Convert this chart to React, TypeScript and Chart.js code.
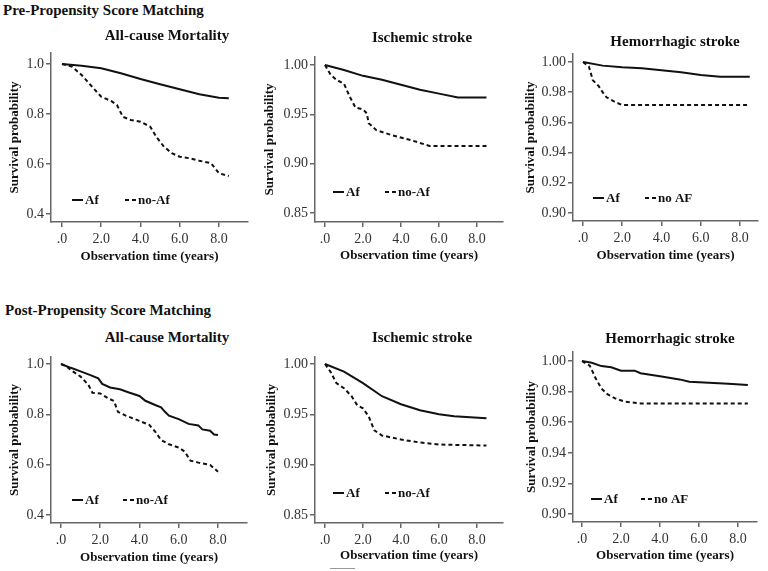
import React, { useEffect, useRef } from "react";
import { Chart, registerables } from "chart.js";

Chart.register(...registerables);

const FONT = '"Liberation Serif", "Times New Roman", Times, serif';

type Pt = [number, number];

// ---- Data (time in years, survival probability) ----
const X_TICKS = [0, 2, 4, 6, 8];
const Y_TICKS_MORT = [0.4, 0.6, 0.8, 1.0];
const Y_TICKS_ISCH = [0.85, 0.9, 0.95, 1.0];
const Y_TICKS_HEM = [0.9, 0.92, 0.94, 0.96, 0.98, 1.0];

const PRE_MORT_AF: Pt[] = [[0, 1.0], [1, 0.993], [2, 0.983], [3, 0.963], [4, 0.94], [5, 0.919], [6, 0.899], [7, 0.879], [8, 0.865], [8.5, 0.863]];
const PRE_MORT_NOAF: Pt[] = [[0, 1.0], [0.5, 0.99], [1, 0.956], [1.5, 0.912], [2, 0.869], [2.5, 0.852], [2.8, 0.836], [3.1, 0.789], [3.5, 0.776], [4, 0.769], [4.5, 0.749], [4.8, 0.709], [5.2, 0.669], [5.6, 0.643], [6, 0.629], [6.5, 0.623], [7, 0.613], [7.6, 0.603], [8, 0.563], [8.5, 0.552]];

const PRE_ISCH_AF: Pt[] = [[0, 1.0], [1, 0.995], [2, 0.989], [3, 0.985], [4, 0.98], [5, 0.975], [6, 0.971], [7, 0.967], [8.5, 0.967]];
const PRE_ISCH_NOAF: Pt[] = [[0, 1.0], [0.3, 0.99], [0.6, 0.985], [1.0, 0.981], [1.3, 0.968], [1.6, 0.957], [2.0, 0.955], [2.2, 0.951], [2.3, 0.941], [2.7, 0.934], [3.5, 0.929], [4.5, 0.924], [5.5, 0.918], [8.5, 0.918]];

const PRE_HEM_AF: Pt[] = [[0, 1.0], [1, 0.9976], [2, 0.9965], [3, 0.9958], [4, 0.9945], [5, 0.9932], [6, 0.9914], [7, 0.9903], [8.5, 0.9903]];
const PRE_HEM_NOAF: Pt[] = [[0, 1.0], [0.3, 0.997], [0.5, 0.988], [0.8, 0.984], [1.0, 0.98], [1.2, 0.9766], [1.6, 0.9737], [2.0, 0.9715], [8.5, 0.9715]];

const POST_MORT_AF: Pt[] = [[0, 1.0], [0.5, 0.985], [1, 0.971], [1.5, 0.956], [1.9, 0.943], [2.1, 0.921], [2.5, 0.907], [3, 0.9], [3.5, 0.886], [4, 0.873], [4.3, 0.854], [4.8, 0.837], [5.1, 0.828], [5.3, 0.81], [5.5, 0.795], [6, 0.781], [6.5, 0.762], [7, 0.756], [7.2, 0.74], [7.6, 0.735], [7.8, 0.72], [8, 0.718]];
const POST_MORT_NOAF: Pt[] = [[0, 1.0], [0.3, 0.99], [0.5, 0.976], [1, 0.95], [1.4, 0.917], [1.6, 0.886], [2.0, 0.883], [2.4, 0.864], [2.7, 0.853], [2.9, 0.81], [3.3, 0.795], [4, 0.774], [4.5, 0.758], [4.8, 0.731], [5.1, 0.698], [5.5, 0.681], [6, 0.668], [6.3, 0.652], [6.6, 0.616], [7, 0.608], [7.6, 0.599], [8, 0.572]];

const POST_ISCH_AF: Pt[] = [[0, 1.0], [1, 0.9924], [2, 0.981], [3, 0.968], [4, 0.96], [5, 0.954], [6, 0.95], [6.8, 0.948], [8.5, 0.946]];
const POST_ISCH_NOAF: Pt[] = [[0, 1.0], [0.3, 0.992], [0.6, 0.981], [1, 0.976], [1.4, 0.968], [1.7, 0.959], [2.0, 0.956], [2.3, 0.948], [2.6, 0.934], [3, 0.929], [4, 0.925], [5, 0.922], [6, 0.92], [8.5, 0.919]];

const POST_HEM_AF: Pt[] = [[0, 1.0], [0.5, 0.9989], [1, 0.9967], [1.5, 0.9959], [2, 0.9937], [2.7, 0.9937], [3, 0.992], [4, 0.99], [5, 0.988], [5.5, 0.9865], [6.5, 0.9858], [7.5, 0.9852], [8.5, 0.9843]];
const POST_HEM_NOAF: Pt[] = [[0, 1.0], [0.4, 0.997], [0.7, 0.9887], [1.0, 0.982], [1.3, 0.9784], [1.7, 0.9756], [2.2, 0.9734], [3, 0.9723], [8.5, 0.9723]];

// ---- Panel layout ----
interface PanelCfg {
  title: string;
  titleX: number;
  titleY: number;
  af: Pt[];
  noaf: Pt[];
  noafLabel: string;
  yTicks: number[];
  yDec: number;
  yMin: number;
  yMax: number;
  xMin: number;
  xMax: number;
  area: { l: number; r: number; t: number; b: number };
  ytx: number;
  xty: number;
  legend: { x1: number; x2: number; dy: number };
}

const PANELS: PanelCfg[] = [
  {
    title: "All-cause Mortality", titleX: 167, titleY: 35,
    af: PRE_MORT_AF, noaf: PRE_MORT_NOAF, noafLabel: "no-Af",
    yTicks: Y_TICKS_MORT, yDec: 1, yMin: 0.368, yMax: 1.044, xMin: -0.56, xMax: 9.48,
    area: { l: 51, r: 248, t: 53, b: 222 }, ytx: 15, xty: 257,
    legend: { x1: 21, x2: 74, dy: 22 },
  },
  {
    title: "Ischemic stroke", titleX: 422, titleY: 37,
    af: PRE_ISCH_AF, noaf: PRE_ISCH_NOAF, noafLabel: "no-Af",
    yTicks: Y_TICKS_ISCH, yDec: 2, yMin: 0.8409, yMax: 1.0081, xMin: -0.526, xMax: 9.37,
    area: { l: 315, r: 503, t: 57, b: 222 }, ytx: 270, xty: 256,
    legend: { x1: 18, x2: 70, dy: 30 },
  },
  {
    title: "Hemorrhagic stroke", titleX: 675, titleY: 41,
    af: PRE_HEM_AF, noaf: PRE_HEM_NOAF, noafLabel: "no AF",
    yTicks: Y_TICKS_HEM, yDec: 2, yMin: 0.8947, yMax: 1.0053, xMin: -0.51, xMax: 8.92,
    area: { l: 573, r: 758, t: 54, b: 221 }, ytx: 531, xty: 256,
    legend: { x1: 20, x2: 72, dy: 23 },
  },
  {
    title: "All-cause Mortality", titleX: 167, titleY: 337,
    af: POST_MORT_AF, noaf: POST_MORT_NOAF, noafLabel: "no-Af",
    yTicks: Y_TICKS_MORT, yDec: 1, yMin: 0.368, yMax: 1.028, xMin: -0.51, xMax: 9.48,
    area: { l: 51, r: 247, t: 357, b: 523 }, ytx: 15, xty: 558,
    legend: { x1: 21, x2: 72, dy: 23 },
  },
  {
    title: "Ischemic stroke", titleX: 422, titleY: 337,
    af: POST_ISCH_AF, noaf: POST_ISCH_NOAF, noafLabel: "no-Af",
    yTicks: Y_TICKS_ISCH, yDec: 2, yMin: 0.842, yMax: 1.007, xMin: -0.526, xMax: 9.37,
    area: { l: 315, r: 503, t: 357, b: 523 }, ytx: 272, xty: 556,
    legend: { x1: 18, x2: 70, dy: 30 },
  },
  {
    title: "Hemorrhagic stroke", titleX: 670, titleY: 338,
    af: POST_HEM_AF, noaf: POST_HEM_NOAF, noafLabel: "no AF",
    yTicks: Y_TICKS_HEM, yDec: 2, yMin: 0.8948, yMax: 1.0059, xMin: -0.46, xMax: 8.97,
    area: { l: 573, r: 757, t: 352, b: 522 }, ytx: 532, xty: 556,
    legend: { x1: 18, x2: 68, dy: 23 },
  },
];

const legendPlugin = {
  id: "kmLegend",
  afterDatasetsDraw(chart: any, _args: any, opts: any) {
    const { ctx, chartArea } = chart;
    const y = chartArea.bottom - opts.dy;
    ctx.save();
    ctx.font = `bold 13px ${FONT}`;
    ctx.textBaseline = "middle";
    ctx.fillStyle = "#111";
    chart.data.datasets.forEach((ds: any, i: number) => {
      const x = chartArea.left + (i === 0 ? opts.x1 : opts.x2);
      ctx.beginPath();
      ctx.setLineDash(ds.borderDash || []);
      ctx.lineWidth = 2;
      ctx.strokeStyle = ds.borderColor;
      ctx.moveTo(x, y);
      ctx.lineTo(x + 11, y);
      ctx.stroke();
      ctx.setLineDash([]);
      ctx.fillText(ds.label, x + 13, y + 1);
    });
    ctx.restore();
  },
};

function KMPanel({ cfg }: { cfg: PanelCfg }) {
  const ref = useRef<HTMLCanvasElement>(null);
  const left = cfg.ytx - 10;
  const top = cfg.area.t - 10;
  const right = cfg.area.r + 10;
  const bottom = cfg.xty + 10;
  const W = right - left;
  const H = bottom - top;

  useEffect(() => {
    const axisColor = "#666";
    const chart = new Chart(ref.current as HTMLCanvasElement, {
      type: "line",
      data: {
        datasets: [
          {
            label: "Af",
            data: cfg.af.map(([x, y]) => ({ x, y })),
            borderColor: "#111",
            borderWidth: 2,
            pointRadius: 0,
            tension: 0,
            fill: false,
          },
          {
            label: cfg.noafLabel,
            data: cfg.noaf.map(([x, y]) => ({ x, y })),
            borderColor: "#111",
            borderWidth: 2,
            borderDash: [4, 3],
            pointRadius: 0,
            tension: 0,
            fill: false,
          },
        ],
      },
      options: {
        responsive: false,
        animation: false,
        devicePixelRatio: 1,
        layout: { padding: { top: 10, right: 10, left: 0, bottom: 0 } },
        plugins: {
          legend: { display: false },
          tooltip: { enabled: false },
          kmLegend: cfg.legend,
        } as any,
        scales: {
          x: {
            type: "linear",
            min: cfg.xMin,
            max: cfg.xMax,
            afterBuildTicks: (s: any) => {
              s.ticks = X_TICKS.map((v) => ({ value: v }));
            },
            afterFit: (s: any) => {
              s.height = bottom - cfg.area.b;
              s.paddingLeft = 0;
              s.paddingRight = 0;
            },
            ticks: {
              callback: (v: any) => (Number(v) === 0 ? ".0" : Number(v).toFixed(1)),
              font: { family: FONT, size: 14 },
              color: "#333",
              padding: 4,
              autoSkip: false,
              maxRotation: 0,
            },
            grid: { drawOnChartArea: false, drawTicks: true, tickLength: 5, color: axisColor, lineWidth: 1.5 },
            border: { display: true, color: axisColor, width: 1.5 },
            title: {
              display: true,
              text: "Observation time (years)",
              font: { family: FONT, size: 13, weight: "bold" },
              color: "#111",
              padding: { top: 0, bottom: 2.2 },
            },
          },
          y: {
            type: "linear",
            min: cfg.yMin,
            max: cfg.yMax,
            afterBuildTicks: (s: any) => {
              s.ticks = cfg.yTicks.map((v) => ({ value: v }));
            },
            afterFit: (s: any) => {
              s.width = cfg.area.l - left;
              s.paddingTop = 0;
              s.paddingBottom = 0;
            },
            ticks: {
              callback: (v: any) => Number(v).toFixed(cfg.yDec),
              font: { family: FONT, size: 14 },
              color: "#333",
              padding: 2,
              autoSkip: false,
            },
            grid: { drawOnChartArea: false, drawTicks: true, tickLength: 5, color: axisColor, lineWidth: 1.5 },
            border: { display: true, color: axisColor, width: 1.5 },
            title: {
              display: true,
              text: "Survival probability",
              font: { family: FONT, size: 13, weight: "bold" },
              color: "#111",
              padding: { top: 2.2, bottom: 0 },
            },
          },
        },
      } as any,
      plugins: [legendPlugin],
    });
    return () => chart.destroy();
  }, []);

  return (
    <canvas
      ref={ref}
      width={W}
      height={H}
      style={{ position: "absolute", left, top, width: W, height: H }}
    />
  );
}

export default function App() {
  const header: React.CSSProperties = {
    position: "absolute",
    fontFamily: FONT,
    fontWeight: "bold",
    fontSize: 15,
    lineHeight: "18px",
    color: "#111",
    whiteSpace: "nowrap",
  };
  return (
    <div style={{ position: "absolute", left: 0, top: 0, width: 768, height: 571, background: "#fff", overflow: "hidden" }}>
      {PANELS.map((p, i) => (
        <KMPanel key={i} cfg={p} />
      ))}
      <div style={{ ...header, left: 3, top: 1 }}>Pre-Propensity Score Matching</div>
      <div style={{ ...header, left: 5, top: 301 }}>Post-Propensity Score Matching</div>
      {PANELS.map((p, i) => (
        <div
          key={"t" + i}
          style={{ ...header, left: p.titleX - 100, width: 200, textAlign: "center", top: p.titleY - 9 }}
        >
          {p.title}
        </div>
      ))}
      <div style={{ position: "absolute", left: 330, top: 568, width: 25, height: 1, background: "#999" }} />
    </div>
  );
}
